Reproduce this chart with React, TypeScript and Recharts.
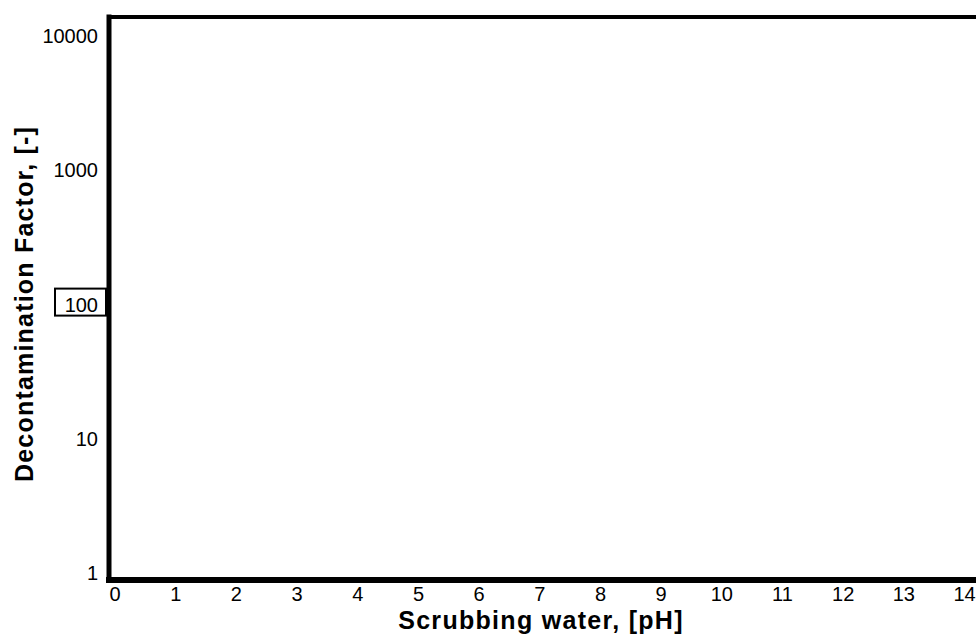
import React from 'react';
import { ComposedChart, Line, XAxis, YAxis, ReferenceLine } from 'recharts';

// pH categories (x ticks) and decontamination factor ticks (log y axis)
const phTicks: number[] = [0, 1, 2, 3, 4, 5, 6, 7, 8, 9, 10, 11, 12, 13, 14];
const factorTicks: number[] = [1, 10, 100, 1000, 10000];
// The reference plot area is empty: no measured values are shown
const phValues: number[] = [0, 1, 2, 3, 4, 5, 6, 7, 8, 9, 10, 11, 12, 13, 14];
const factorValues: (number | null)[] = [null, null, null, null, null, null, null, null, null, null, null, null, null, null, null];

const data = phValues.map((ph, i) => ({ ph, factor: factorValues[i] }));

const FONT = '"Liberation Sans", Arial, Helvetica, sans-serif';
const CHART_W = 1000;
const CHART_H = 639;
const LEFT = 109;
const TOP = 17;
const BOTTOM = 580;
const X_DOMAIN: [number, number] = [-0.1, 14.42];
const Y_DOMAIN: [number, number] = [0.887, 13900];

const YTick = (props: any) => {
  const { y, payload } = props;
  const v = payload.value;
  return (
    <g>
      {v === 100 && (
        <rect x={55} y={y - 16} width={51} height={27} fill="#fff" stroke="#000" strokeWidth={2} />
      )}
      <text x={98} y={y} dy={7} textAnchor="end" fontSize={20} fontFamily={FONT} fill="#000">
        {v}
      </text>
    </g>
  );
};

const XTick = (props: any) => {
  const { x, payload } = props;
  return (
    <text x={x} y={601} textAnchor="middle" fontSize={20} fontFamily={FONT} fill="#000">
      {payload.value}
    </text>
  );
};

export default function App() {
  return (
    <div style={{ position: 'absolute', left: 0, top: 0, width: 976, height: 639, overflow: 'hidden', background: '#fff' }}>
      <ComposedChart
        width={CHART_W}
        height={CHART_H}
        data={data}
        margin={{ top: TOP, right: 10, bottom: 0, left: 0 }}
      >
        <XAxis
          dataKey="ph"
          type="number"
          domain={X_DOMAIN}
          allowDataOverflow
          ticks={phTicks}
          interval={0}
          height={CHART_H - BOTTOM}
          tickLine={false}
          tick={<XTick />}
          axisLine={{ stroke: '#000', strokeWidth: 6, strokeLinecap: 'square' }}
        />
        <YAxis
          scale="log"
          domain={Y_DOMAIN}
          allowDataOverflow
          ticks={factorTicks}
          interval={0}
          width={LEFT}
          tickLine={false}
          tick={<YTick />}
          axisLine={{ stroke: '#000', strokeWidth: 5, strokeLinecap: 'square' }}
        />
        <ReferenceLine
          y={Y_DOMAIN[1]}
          stroke="#000"
          strokeWidth={4}
          strokeLinecap="square"
          ifOverflow="visible"
        />
        <Line
          dataKey="factor"
          stroke="#000"
          dot={false}
          isAnimationActive={false}
          connectNulls={false}
        />
        <text
          x={541}
          y={629}
          textAnchor="middle"
          fontSize={25}
          fontWeight="bold"
          letterSpacing={1.3}
          fontFamily={FONT}
          fill="#000"
        >
          Scrubbing water, [pH]
        </text>
        <text
          transform="translate(33, 304) rotate(-90)"
          x={0}
          y={0}
          textAnchor="middle"
          fontSize={25}
          fontWeight="bold"
          letterSpacing={1.2}
          fontFamily={FONT}
          fill="#000"
        >
          Decontamination Factor, [-]
        </text>
      </ComposedChart>
    </div>
  );
}
